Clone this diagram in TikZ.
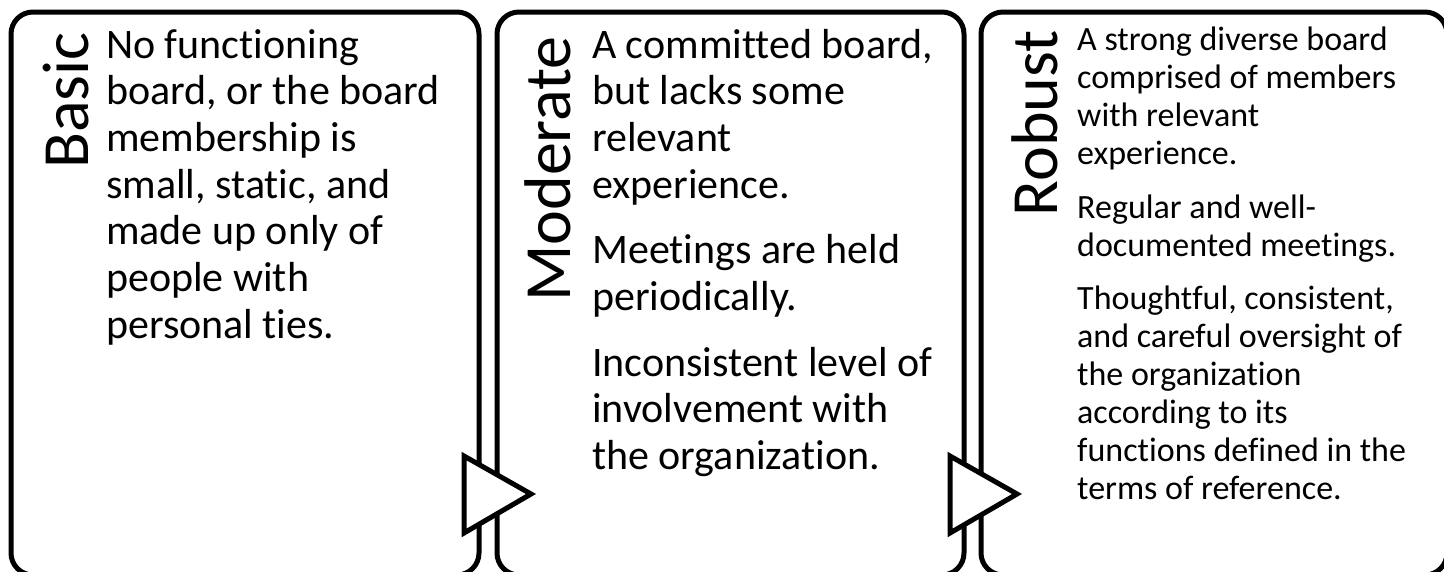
\documentclass[tikz,border=0pt]{standalone}
\usepackage{fontspec}
\setmainfont[Ligatures=NoCommon]{Carlito}
% fixed interword gaps for the description texts
\newcommand\wordgaps{\spaceskip=0.226em\relax\xspaceskip=0.226em\relax}
\begin{document}
\begin{tikzpicture}[x=1pt,y=-1pt,
  panel/.style={draw=black, line width=5pt, fill=white, rounded corners=22pt},
  chevron/.style={draw=black, line width=5pt, fill=white, line join=miter},
  level/.style={rotate=90, anchor=base east, inner sep=0pt, font=\fontsize{66}{66}\selectfont},
  bodytext/.style={anchor=base west, inner sep=0pt, align=left, text width=#1},
  bigfont/.style={font=\fontsize{42}{46.7}\selectfont},
  smallfont/.style={font=\fontsize{34}{38}\selectfont},
]
\useasboundingbox (0,0) rectangle (1444,571);
\clip (0,0) rectangle (1444,571);

% three stage panels, running past the lower edge
\draw[panel] (11,12) rectangle (479,575);
\draw[panel] (497,12) rectangle (964,575);
\draw[panel] (981,12) rectangle (1447,575);

% arrows between the panels
\draw[chevron] (464,456) -- (464,533) -- (531,494) -- cycle;
\draw[chevron] (950,456) -- (950,533) -- (1017,494) -- cycle;

% stage names
\node[level] (basic) at (88,32) {Basic};
\node[level] (moderate) at (570,36) {Moderate};
\node[level] (robust) at (1057,30) {Robust};

% descriptions
\node[bodytext=380pt, bigfont] (basictext) at (106,58)
  {\wordgaps No functioning\\ board, or the board\\ membership is\\ small, static, and\\
   made up only of\\ people with\\ personal ties.\par};
\node[bodytext=380pt, bigfont] (moderatetext) at (592,58)
  {\wordgaps A committed board,\\ but lacks some\\ relevant\\ experience.\\[19pt]
   Meetings are held\\ periodically.\\[19pt]
   Inconsistent level of\\ involvement with\\ the organization.\par};
\node[bodytext=360pt, smallfont] (robusttext) at (1077,50)
  {\wordgaps A strong diverse board\\ comprised of members\\ with relevant\\ experience.\\[16pt]
   Regular and well-\\ documented meetings.\\[15pt]
   Thoughtful, consistent,\\ and careful oversight of\\ the organization\\
   according to its\\ functions defined in the\\ terms of reference.\par};
\end{tikzpicture}
\end{document}
